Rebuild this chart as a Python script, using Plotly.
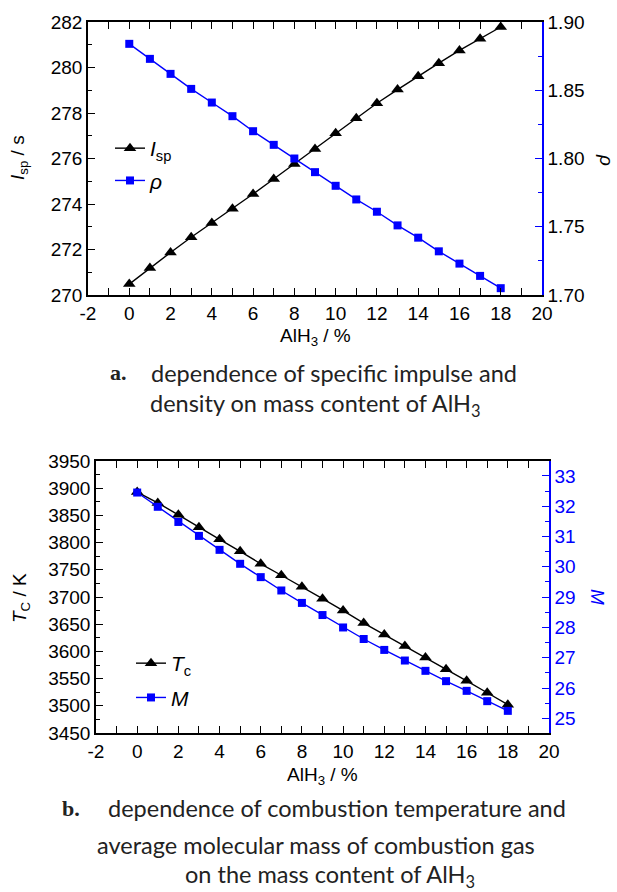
import plotly.graph_objects as go

W, H = 617, 892

# ---------- data ----------
alh3 = list(range(0, 19))
isp = [270.48, 271.19, 271.87, 272.54, 273.17, 273.79, 274.44, 275.10, 275.76,
       276.42, 277.11, 277.77, 278.43, 279.03, 279.62, 280.19, 280.75, 281.26, 281.78]
rho = [1.884, 1.873, 1.862, 1.851, 1.841, 1.831, 1.820, 1.810, 1.800,
       1.790, 1.780, 1.770, 1.761, 1.751, 1.742, 1.732, 1.723, 1.714, 1.705]
tc = [3893, 3873, 3851, 3828, 3806, 3784, 3761, 3740, 3719,
      3697, 3675, 3652, 3631, 3610, 3589, 3567, 3546, 3524, 3502]
mm = [32.45, 31.98, 31.48, 31.02, 30.56, 30.10, 29.66, 29.22, 28.81,
      28.41, 28.00, 27.62, 27.26, 26.91, 26.57, 26.23, 25.91, 25.57, 25.25]
x_tickvals = [-2, 0, 2, 4, 6, 8, 10, 12, 14, 16, 18, 20]
x_ticktext = ["-2", "0", "2", "4", "6", "8", "10", "12", "14", "16", "18", "20"]

BLUE = "#0000FF"
TFAM = "Liberation Sans, Arial, sans-serif"
TF = dict(family=TFAM, size=19, color="black")


def px(x):
    return x / W


def py(y):
    return 1 - y / H


fig = go.Figure()

# top chart
fig.add_trace(go.Scatter(x=alh3, y=isp, mode="lines+markers", name="<i>I</i><sub>sp</sub>",
                         line=dict(color="black", width=1.4), legendgroup="a1",
                         marker=dict(symbol="triangle-up", size=11, color="black"),
                         xaxis="x", yaxis="y", legend="legend"))
fig.add_trace(go.Scatter(x=alh3, y=rho, mode="lines+markers", name="<i>ρ</i>",
                         line=dict(color=BLUE, width=1.4), legendgroup="a2",
                         marker=dict(symbol="square", size=8, color=BLUE),
                         xaxis="x", yaxis="y2", legend="legend"))
# bottom chart
fig.add_trace(go.Scatter(x=alh3, y=tc, mode="lines+markers", name="<i>T</i><sub>c</sub>",
                         line=dict(color="black", width=1.4), legendgroup="b1",
                         marker=dict(symbol="triangle-up", size=11, color="black"),
                         xaxis="x2", yaxis="y3", legend="legend2"))
fig.add_trace(go.Scatter(x=alh3, y=mm, mode="lines+markers", name="<i>M</i>",
                         line=dict(color=BLUE, width=1.4), legendgroup="b2",
                         marker=dict(symbol="square", size=8, color=BLUE),
                         xaxis="x2", yaxis="y4", legend="legend2"))

xcommon = dict(range=[-2, 20], tickmode="array", tickvals=x_tickvals, ticktext=x_ticktext,
               showline=True, linecolor="black", linewidth=1.5, automargin=False,
               ticks="inside", ticklen=7, tickcolor="black", tickwidth=1.2, mirror="allticks",
               showgrid=False, zeroline=False, tickfont=TF,
               minor=dict(ticks="inside", ticklen=4, dtick=1, tick0=0, tickcolor="black", showgrid=False))

top_dom = [py(295), py(22)]
bot_dom = [py(733), py(461)]

LF = dict(family="Liberation Sans, Arial, sans-serif", size=21, color="black")

fig.update_layout(
    width=W, height=H, margin=dict(l=0, r=0, t=0, b=0),
    paper_bgcolor="white", plot_bgcolor="white",
    xaxis=dict(domain=[px(88), px(542)], anchor="y", **xcommon),
    yaxis=dict(domain=top_dom, anchor="x", range=[270, 282], dtick=2, showline=True, linecolor="black",
               linewidth=1.5, ticks="inside", ticklen=7, tickcolor="black", showgrid=False, zeroline=False,
               automargin=False, tickfont=TF,
               minor=dict(ticks="inside", ticklen=4, dtick=1, tickcolor="black", showgrid=False)),
    yaxis2=dict(overlaying="y", anchor="x", side="right", range=[1.70, 1.90], dtick=0.05, tickformat=".2f",
                showline=True, linecolor=BLUE, linewidth=1.5, ticks="inside", ticklen=7, tickcolor=BLUE,
                showgrid=False, zeroline=False, automargin=False, tickfont=TF,
                minor=dict(ticks="inside", ticklen=4, dtick=0.025, tickcolor=BLUE, showgrid=False)),
    xaxis2=dict(domain=[px(96), px(549)], anchor="y3", **xcommon),
    yaxis3=dict(domain=bot_dom, anchor="x2", range=[3450, 3950], dtick=50, showline=True, linecolor="black",
                linewidth=1.5, ticks="inside", ticklen=7, tickcolor="black", showgrid=False, zeroline=False,
                automargin=False, tickfont=TF,
                minor=dict(ticks="inside", ticklen=4, dtick=25, tickcolor="black", showgrid=False)),
    yaxis4=dict(overlaying="y3", anchor="x2", side="right", range=[24.52, 33.49], dtick=1, tick0=25,
                showline=True, linecolor=BLUE, linewidth=1.5, ticks="inside", ticklen=7, tickcolor=BLUE,
                showgrid=False, zeroline=False, automargin=False, tickfont=dict(TF, color=BLUE),
                minor=dict(ticks="inside", ticklen=4, dtick=0.5, tickcolor=BLUE, showgrid=False)),
    legend=dict(x=px(110), y=py(128), xanchor="left", yanchor="top", bgcolor="rgba(0,0,0,0)",
                font=LF, tracegroupgap=2),
    legend2=dict(x=px(131), y=py(643), xanchor="left", yanchor="top", bgcolor="rgba(0,0,0,0)",
                 font=LF, tracegroupgap=4),
    showlegend=True,
)

AF = dict(family="Liberation Sans, Arial, sans-serif", size=19, color="black")
CF = dict(family="Lato, Noto Sans, sans-serif", size=23.5, color="#222222")
BF = dict(family="Liberation Serif, Times New Roman, serif", size=22, color="#222222")

ann = [
    # axis titles
    dict(x=px(19), y=py(158), text="<i>I</i><sub>sp</sub> / s", textangle=-90, font=AF),
    dict(x=px(606), y=py(160), text="<i>ρ</i>", textangle=90, font=AF),
    dict(x=px(315), y=py(337), text="AlH<sub>3</sub> / %", font=AF),
    dict(x=px(21), y=py(598), text="<i>T</i><sub>C</sub> / K", textangle=-90, font=AF),
    dict(x=px(598), y=py(597), text="<i>M</i>", textangle=90, font=dict(AF, color=BLUE)),
    dict(x=px(322), y=py(776), text="AlH<sub>3</sub> / %", font=AF),
    # captions
    dict(x=px(129), y=py(373), text="<b>a.</b>", xanchor="right", font=BF),
    dict(x=px(149), y=py(373), text="dependence of specific impulse and", xanchor="left", font=CF),
    dict(x=px(315), y=py(405), text="density on mass content of AlH<sub>3</sub>", font=CF),
    dict(x=px(82), y=py(808), text="<b>b.</b>", xanchor="right", font=BF),
    dict(x=px(106), y=py(808), text="dependence of combustion temperature and", xanchor="left", font=CF),
    dict(x=px(316), y=py(845), text="average molecular mass of combustion gas", font=CF),
    dict(x=px(330), y=py(876), text="on the mass content of AlH<sub>3</sub>", font=CF),
]
for a in ann:
    a.setdefault("xanchor", "center")
    a.update(xref="paper", yref="paper", yanchor="middle", showarrow=False)
    fig.add_annotation(**a)

fig.write_html("out.html", config={"displayModeBar": False},
               post_script="document.body.style.margin='0';document.body.style.padding='0';")
